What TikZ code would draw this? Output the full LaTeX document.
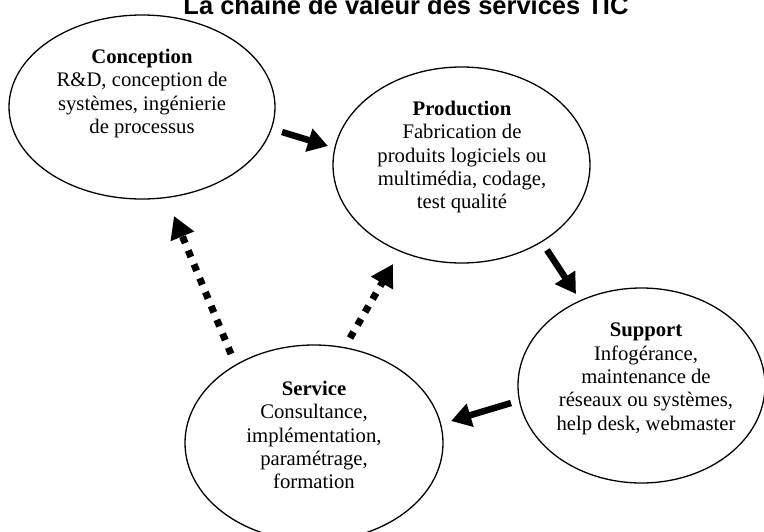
\documentclass[tikz,border=0pt]{standalone}
\usepackage{fontspec}
\setmainfont{Liberation Serif}
\newfontfamily\titlefont{Liberation Sans}
\usetikzlibrary{shapes.geometric,arrows.meta}
\tikzset{
  bubble/.style={draw, ellipse, line width=1.3pt, inner sep=0pt},
  label text/.style={align=center, inner sep=0pt, anchor=north,
    font=\fontsize{20.7}{23.3}\selectfont},
  solidarrow/.style={line width=6.5pt, -{Triangle[length=20pt,width=23pt]}},
  dotarrow/.style={line width=7pt, line cap=butt, dash pattern=on 7pt off 8pt,
    -{Triangle[length=22pt,width=24pt]}}
}
\begin{document}
\begin{tikzpicture}[x=1pt,y=-1pt]
\useasboundingbox (0,0) rectangle (764,531);
\clip (0,0) rectangle (764,531);
% title
\node[font=\titlefont\bfseries\fontsize{25.5}{28}\selectfont, anchor=base, inner sep=0pt] (title) at (406,14) {La chaîne de valeur des services TIC};
% ellipses
\node[bubble, minimum width=266pt, minimum height=184pt] (C) at (142,107) {};
\node[bubble, minimum width=257pt, minimum height=196pt] (P) at (461.5,165) {};
\node[bubble, minimum width=247pt, minimum height=195pt] (S) at (641.5,385.5) {};
\node[bubble, minimum width=258pt, minimum height=196pt] (V) at (314,443) {};
% texts
\node[label text] (Ct) at (142,49) {\textbf{Conception}\\R\&D, conception de\\systèmes, ingénierie\\de processus};
\node[label text] (Pt) at (462,101) {\textbf{Production}\\Fabrication de\\produits logiciels ou\\multimédia, codage,\\test qualité};
\node[label text] (St) at (646,323) {\textbf{Support}\\Infogérance,\\maintenance de\\réseaux ou systèmes,\\help desk, webmaster};
\node[label text] (Vt) at (314,381) {\textbf{Service}\\Consultance,\\implémentation,\\paramétrage,\\formation};
% arrow ends
\coordinate (c1a) at (282,132);
\coordinate (c1b) at (328,146);
\coordinate (c2a) at (547,250);
\coordinate (c2b) at (576,294);
\coordinate (c3a) at (511,403);
\coordinate (c3b) at (451,421);
\coordinate (c4a) at (231,354);
\coordinate (c4b) at (174,216);
\coordinate (c5a) at (350,338);
\coordinate (c5b) at (393,264);
% connectors
\draw[solidarrow] (c1a) -- (c1b);
\draw[solidarrow] (c2a) -- (c2b);
\draw[solidarrow] (c3a) -- (c3b);
\draw[dotarrow] (c4a) -- (c4b);
\draw[dotarrow] (c5a) -- (c5b);
\end{tikzpicture}
\end{document}
